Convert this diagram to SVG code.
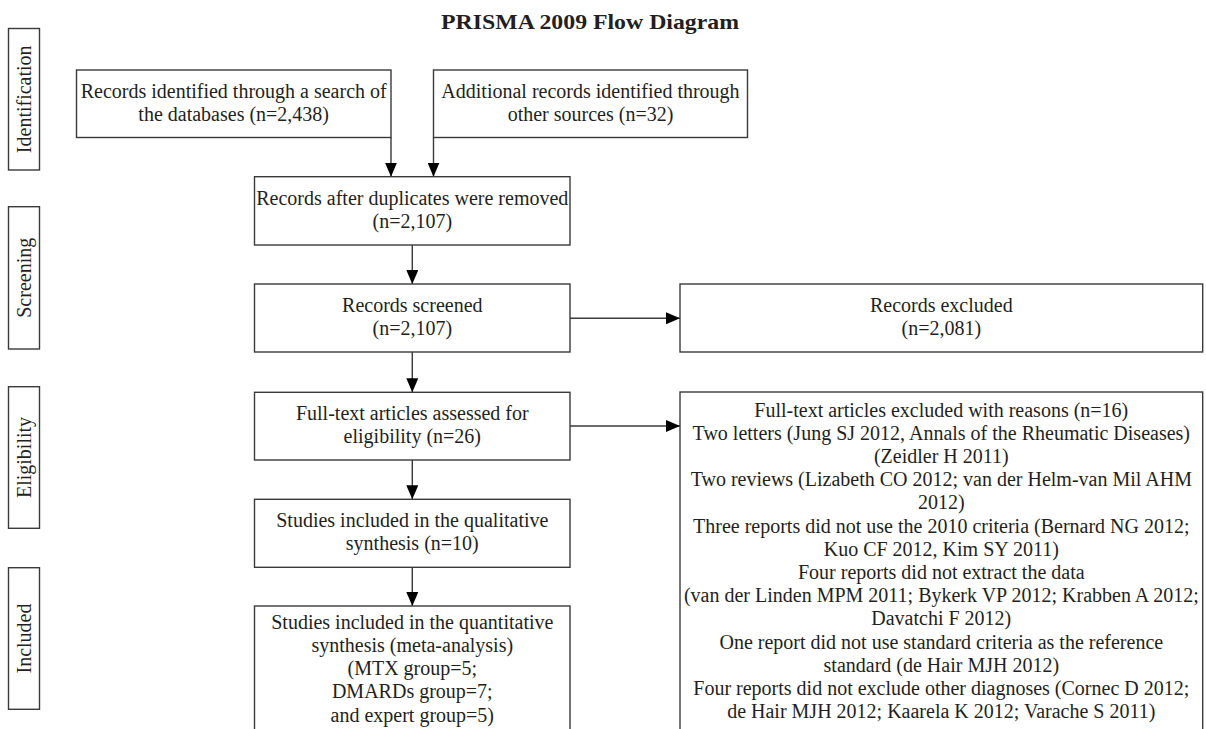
<svg xmlns="http://www.w3.org/2000/svg" width="1206" height="729" viewBox="0 0 1206 729">
<style>
  .box { fill: #ffffff; stroke: #3a3a3a; stroke-width: 1.4; }
  .t { font-family: "Liberation Serif", "Times New Roman", serif; font-size: 20px; fill: #231f20; text-anchor: middle; }
  .title { font-family: "Liberation Serif", "Times New Roman", serif; font-size: 21px; font-weight: bold; fill: #231f20; text-anchor: middle; }
  .conn { fill: none; stroke: #3a3a3a; stroke-width: 1.4; }
</style>
<defs>
  <marker id="arr" markerUnits="userSpaceOnUse" markerWidth="14" markerHeight="12" refX="14" refY="6" orient="auto">
    <path d="M0,0 L14,6 L0,12 z" fill="#000000"/>
  </marker>
</defs>
<rect width="1206" height="729" fill="#ffffff"/>
<text class="title" x="590" y="29" textLength="298" lengthAdjust="spacingAndGlyphs">PRISMA 2009 Flow Diagram</text>

<g id="stage-identification">
  <rect class="box" x="8.5" y="28.5" width="31" height="141.5"/>
  <text class="t" transform="translate(30.5,99.3) rotate(-90)">Identification</text>
</g>
<g id="stage-screening">
  <rect class="box" x="8.5" y="206.7" width="31" height="142.3"/>
  <text class="t" transform="translate(30.5,277.8) rotate(-90)">Screening</text>
</g>
<g id="stage-eligibility">
  <rect class="box" x="8.5" y="386.7" width="31" height="141.6"/>
  <text class="t" transform="translate(30.5,457.5) rotate(-90)">Eligibility</text>
</g>
<g id="stage-included">
  <rect class="box" x="8.5" y="567.7" width="31" height="141.6"/>
  <text class="t" transform="translate(30.5,638.5) rotate(-90)">Included</text>
</g>

<g id="connectors">
  <line class="conn" x1="391" y1="137.5" x2="391" y2="176.7" marker-end="url(#arr)"/>
  <line class="conn" x1="433.5" y1="137.5" x2="433.5" y2="176.7" marker-end="url(#arr)"/>
  <line class="conn" x1="412.3" y1="245" x2="412.3" y2="284" marker-end="url(#arr)"/>
  <line class="conn" x1="412.3" y1="352" x2="412.3" y2="392.3" marker-end="url(#arr)"/>
  <line class="conn" x1="412.3" y1="460" x2="412.3" y2="499.3" marker-end="url(#arr)"/>
  <line class="conn" x1="412.3" y1="567.3" x2="412.3" y2="606" marker-end="url(#arr)"/>
  <line class="conn" x1="570" y1="318.3" x2="680" y2="318.3" marker-end="url(#arr)"/>
  <line class="conn" x1="570" y1="426" x2="680" y2="426" marker-end="url(#arr)"/>
</g>

<g id="n-database">
  <rect class="box" x="76.5" y="70" width="314.5" height="67.5"/>
  <text class="t" x="233.7" y="97.5">Records identified through a search of</text>
  <text class="t" x="233.7" y="120.5">the databases (n=2,438)</text>
</g>
<g id="n-other">
  <rect class="box" x="433.5" y="70" width="314" height="67.5"/>
  <text class="t" x="590.5" y="97.5">Additional records identified through</text>
  <text class="t" x="590.5" y="120.5">other sources (n=32)</text>
</g>
<g id="n-duplicates">
  <rect class="box" x="254.5" y="176.7" width="315.5" height="68.3"/>
  <text class="t" x="412.3" y="204.8">Records after duplicates were removed</text>
  <text class="t" x="412.3" y="227.8">(n=2,107)</text>
</g>
<g id="n-screened">
  <rect class="box" x="254.5" y="284" width="315.5" height="68"/>
  <text class="t" x="412.3" y="312">Records screened</text>
  <text class="t" x="412.3" y="335">(n=2,107)</text>
</g>
<g id="n-excluded">
  <rect class="box" x="680" y="284" width="522.7" height="68"/>
  <text class="t" x="941.3" y="312">Records excluded</text>
  <text class="t" x="941.3" y="335">(n=2,081)</text>
</g>
<g id="n-fulltext">
  <rect class="box" x="254.5" y="392.3" width="315.5" height="67.7"/>
  <text class="t" x="412.3" y="420">Full-text articles assessed for</text>
  <text class="t" x="412.3" y="443">eligibility (n=26)</text>
</g>
<g id="n-fulltext-excluded">
  <rect class="box" x="680" y="392" width="522.7" height="345"/>
  <text class="t" x="941.3" y="416.5">Full-text articles excluded with reasons (n=16)</text>
  <text class="t" x="941.3" y="439.7">Two letters (Jung SJ 2012, Annals of the Rheumatic Diseases)</text>
  <text class="t" x="941.3" y="462.9">(Zeidler H 2011)</text>
  <text class="t" x="941.3" y="486.1">Two reviews (Lizabeth CO 2012; van der Helm-van Mil AHM</text>
  <text class="t" x="941.3" y="509.3">2012)</text>
  <text class="t" x="941.3" y="532.5">Three reports did not use the 2010 criteria (Bernard NG 2012;</text>
  <text class="t" x="941.3" y="555.7">Kuo CF 2012, Kim SY 2011)</text>
  <text class="t" x="941.3" y="578.9">Four reports did not extract the data</text>
  <text class="t" x="941.3" y="602.1">(van der Linden MPM 2011; Bykerk VP 2012; Krabben A 2012;</text>
  <text class="t" x="941.3" y="625.3">Davatchi F 2012)</text>
  <text class="t" x="941.3" y="648.5">One report did not use standard criteria as the reference</text>
  <text class="t" x="941.3" y="671.7">standard (de Hair MJH 2012)</text>
  <text class="t" x="941.3" y="694.9">Four reports did not exclude other diagnoses (Cornec D 2012;</text>
  <text class="t" x="941.3" y="718.1">de Hair MJH 2012; Kaarela K 2012; Varache S 2011)</text>
</g>
<g id="n-qualitative">
  <rect class="box" x="254.5" y="499.3" width="315.5" height="68"/>
  <text class="t" x="412.3" y="527.3">Studies included in the qualitative</text>
  <text class="t" x="412.3" y="550.3">synthesis (n=10)</text>
</g>
<g id="n-quantitative">
  <rect class="box" x="254.5" y="606" width="315.5" height="131"/>
  <text class="t" x="412.3" y="628.5">Studies included in the quantitative</text>
  <text class="t" x="412.3" y="651.7">synthesis (meta-analysis)</text>
  <text class="t" x="412.3" y="675">(MTX group=5;</text>
  <text class="t" x="412.3" y="698.2">DMARDs group=7;</text>
  <text class="t" x="412.3" y="721.5">and expert group=5)</text>
</g>
</svg>
